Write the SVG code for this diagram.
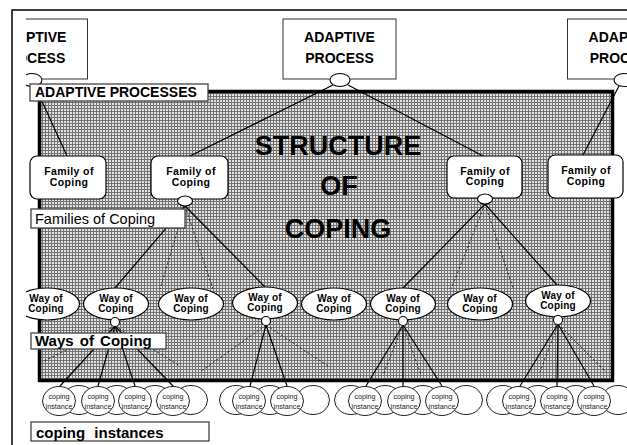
<svg xmlns="http://www.w3.org/2000/svg" width="627" height="445" viewBox="0 0 627 445">
<defs>
<pattern id="grid" width="3" height="3" patternUnits="userSpaceOnUse">
<rect width="3" height="3" fill="#e2e2e2"/>
<rect width="3" height="1" fill="#727272"/>
<rect width="1" height="3" fill="#727272"/>
</pattern>
<clipPath id="clip"><rect x="26" y="0" width="601" height="445"/></clipPath>
<style>
.frame{fill:none;stroke:#000;stroke-width:1.5}
.topbox{fill:#fff;stroke:#333;stroke-width:1}
.knob{fill:#fff;stroke:#000;stroke-width:1.1}
.fam{fill:#fff;stroke:#000;stroke-width:1.2}
.way{fill:#fff;stroke:#000;stroke-width:1.2}
.inst{fill:#fff;stroke:#222;stroke-width:1}
.lbl{fill:#fff;stroke:#444;stroke-width:1.3}
.solid{stroke:#000;stroke-width:1.2;fill:none}
.dash{stroke:#222;stroke-width:0.9;stroke-dasharray:2.5 2;fill:none}
text{font-family:"Liberation Sans",Arial,sans-serif;fill:#000}
.tb{font-size:14px;font-weight:bold;text-anchor:middle}
.ft{font-size:10.5px;font-weight:bold;text-anchor:middle;letter-spacing:0.4px}
.wt{font-size:10px;font-weight:bold;text-anchor:middle;letter-spacing:0.2px}
.it{font-size:7.2px;text-anchor:middle;fill:#222}
.big{font-size:27px;font-weight:bold;text-anchor:middle}
.lt{font-size:14px;font-weight:bold}
.ln{font-size:14.5px}
.lw{font-size:15px;font-weight:bold;word-spacing:2px}
.lc{font-size:15px;font-weight:bold;word-spacing:5px}
</style>
</defs>
<rect width="627" height="445" fill="#fff"/>
<path class="frame" d="M12,445 V10 H627"/>
<g clip-path="url(#clip)">
<rect id="structure" x="39.5" y="91.5" width="573" height="289" fill="url(#grid)" stroke="#000" stroke-width="3.5"/>
<g id="title">
<text class="big" x="338" y="155">STRUCTURE</text>
<text class="big" x="339" y="195">OF</text>
<text class="big" x="338" y="238">COPING</text>
</g>
<g id="process-left">
<rect class="topbox" x="-25.5" y="19" width="113" height="60"/>
<text class="tb" x="31" y="42">ADAPTIVE</text>
<text class="tb" x="31" y="63">PROCESS</text>
<ellipse class="knob" cx="32" cy="80" rx="10" ry="6.5"/>
</g>
<g id="process-mid">
<rect class="topbox" x="283" y="19" width="113" height="60"/>
<text class="tb" x="339.5" y="42">ADAPTIVE</text>
<text class="tb" x="339.5" y="63">PROCESS</text>
<ellipse class="knob" cx="340" cy="80" rx="10" ry="6.5"/>
</g>
<g id="process-right">
<rect class="topbox" x="567.5" y="19" width="113" height="60"/>
<text class="tb" x="624" y="42">ADAPTIVE</text>
<text class="tb" x="624" y="63">PROCESS</text>
<ellipse class="knob" cx="624" cy="80" rx="10" ry="6.5"/>
</g>
<g id="connectors">
<line class="solid" x1="35" y1="86" x2="67" y2="156"/>
<line class="solid" x1="333" y1="85" x2="190" y2="156"/>
<line class="solid" x1="348" y1="85" x2="483" y2="156"/>
<line class="solid" x1="619" y1="86" x2="583" y2="155"/>
<line class="solid" x1="185" y1="206" x2="115" y2="288"/>
<line class="solid" x1="185" y1="206" x2="265" y2="287"/>
<line class="dash" x1="185" y1="206" x2="160" y2="289"/>
<line class="dash" x1="185" y1="206" x2="213" y2="289"/>
<line class="solid" x1="485" y1="204" x2="403" y2="288"/>
<line class="solid" x1="485" y1="204" x2="557" y2="285"/>
<line class="dash" x1="485" y1="204" x2="451" y2="289"/>
<line class="dash" x1="485" y1="204" x2="513" y2="288"/>
<line class="solid" x1="115" y1="326" x2="60" y2="386"/>
<line class="solid" x1="115" y1="326" x2="98" y2="386"/>
<line class="solid" x1="115" y1="326" x2="135" y2="386"/>
<line class="solid" x1="115" y1="326" x2="173" y2="386"/>
<line class="dash" x1="115" y1="326" x2="42" y2="362"/>
<line class="dash" x1="115" y1="326" x2="180" y2="366"/>
<line class="solid" x1="266" y1="325" x2="250" y2="386"/>
<line class="solid" x1="266" y1="325" x2="287" y2="386"/>
<line class="dash" x1="266" y1="325" x2="200" y2="372"/>
<line class="dash" x1="266" y1="325" x2="328" y2="366"/>
<line class="solid" x1="403" y1="325" x2="366" y2="386"/>
<line class="solid" x1="403" y1="325" x2="403" y2="386"/>
<line class="solid" x1="403" y1="325" x2="442" y2="386"/>
<line class="dash" x1="403" y1="325" x2="383" y2="375"/>
<line class="dash" x1="403" y1="325" x2="421" y2="375"/>
<line class="solid" x1="558" y1="324" x2="520" y2="386"/>
<line class="solid" x1="558" y1="324" x2="557" y2="386"/>
<line class="solid" x1="558" y1="324" x2="594" y2="386"/>
<line class="dash" x1="558" y1="324" x2="540" y2="372"/>
<line class="dash" x1="558" y1="324" x2="606" y2="372"/>
</g>
<g id="family-1"><rect class="fam" x="30" y="156" width="76" height="43" rx="7"/><text class="ft" x="69" y="175">Family of</text><text class="ft" x="69" y="185.5">Coping</text></g>
<g id="family-2"><rect class="fam" x="151" y="156" width="77" height="43" rx="7"/><text class="ft" x="191" y="175">Family of</text><text class="ft" x="191" y="185.5">Coping</text><ellipse class="knob" cx="185" cy="201" rx="7.5" ry="5"/></g>
<g id="family-3"><rect class="fam" x="447" y="156" width="75" height="42" rx="7"/><text class="ft" x="485" y="174.5">Family of</text><text class="ft" x="485" y="185">Coping</text><ellipse class="knob" cx="485" cy="199" rx="7.5" ry="5"/></g>
<g id="family-4"><rect class="fam" x="548" y="155" width="75" height="43" rx="7"/><text class="ft" x="586" y="174">Family of</text><text class="ft" x="586" y="184.5">Coping</text></g>
<g id="way-1"><ellipse class="way" cx="47" cy="304" rx="32.5" ry="16"/><text class="wt" x="46" y="301.5">Way of</text><text class="wt" x="46" y="312">Coping</text></g>
<g id="way-2"><ellipse class="way" cx="116" cy="304" rx="32.5" ry="16"/><text class="wt" x="116" y="301.5">Way of</text><text class="wt" x="116" y="312">Coping</text><circle class="knob" cx="115" cy="322" r="4.5"/></g>
<g id="way-3"><ellipse class="way" cx="191" cy="304" rx="32.5" ry="16"/><text class="wt" x="191" y="301.5">Way of</text><text class="wt" x="191" y="312">Coping</text></g>
<g id="way-4"><ellipse class="way" cx="265" cy="303" rx="32.5" ry="16"/><text class="wt" x="265" y="300.5">Way of</text><text class="wt" x="265" y="311">Coping</text><circle class="knob" cx="266" cy="321" r="4.5"/></g>
<g id="way-5"><ellipse class="way" cx="334" cy="304" rx="32.5" ry="16"/><text class="wt" x="334" y="301.5">Way of</text><text class="wt" x="334" y="312">Coping</text></g>
<g id="way-6"><ellipse class="way" cx="403" cy="304" rx="32.5" ry="16"/><text class="wt" x="403" y="301.5">Way of</text><text class="wt" x="403" y="312">Coping</text><circle class="knob" cx="403" cy="321" r="4.5"/></g>
<g id="way-7"><ellipse class="way" cx="480" cy="304" rx="32.5" ry="16"/><text class="wt" x="480" y="301.5">Way of</text><text class="wt" x="480" y="312">Coping</text></g>
<g id="way-8"><ellipse class="way" cx="558" cy="301" rx="32.5" ry="16"/><text class="wt" x="558" y="298.5">Way of</text><text class="wt" x="558" y="309">Coping</text><circle class="knob" cx="558" cy="320" r="4.5"/></g>
<g id="instances-blank">
<ellipse class="inst" cx="79" cy="400" rx="16.5" ry="14.5"/>
<ellipse class="inst" cx="117" cy="400" rx="16.5" ry="14.5"/>
<ellipse class="inst" cx="155" cy="400" rx="16.5" ry="14.5"/>
<ellipse class="inst" cx="191" cy="400" rx="16.5" ry="14.5"/>
<ellipse class="inst" cx="236" cy="400" rx="16.5" ry="14.5"/>
<ellipse class="inst" cx="270" cy="400" rx="16.5" ry="14.5"/>
<ellipse class="inst" cx="313" cy="400" rx="16.5" ry="14.5"/>
<ellipse class="inst" cx="351" cy="400" rx="16.5" ry="14.5"/>
<ellipse class="inst" cx="385" cy="400" rx="16.5" ry="14.5"/>
<ellipse class="inst" cx="423" cy="400" rx="16.5" ry="14.5"/>
<ellipse class="inst" cx="466" cy="400" rx="16.5" ry="14.5"/>
<ellipse class="inst" cx="503" cy="400" rx="16.5" ry="14.5"/>
<ellipse class="inst" cx="538" cy="400" rx="16.5" ry="14.5"/>
<ellipse class="inst" cx="576" cy="400" rx="16.5" ry="14.5"/>
<ellipse class="inst" cx="618" cy="400" rx="16.5" ry="14.5"/>
</g>
<g id="instance-1"><ellipse class="inst" cx="59" cy="401" rx="16.5" ry="14.5"/><text class="it" x="59" y="399">coping</text><text class="it" x="59" y="409">instance</text></g>
<g id="instance-2"><ellipse class="inst" cx="98" cy="401" rx="16.5" ry="14.5"/><text class="it" x="98" y="399">coping</text><text class="it" x="98" y="409">instance</text></g>
<g id="instance-3"><ellipse class="inst" cx="135" cy="401" rx="16.5" ry="14.5"/><text class="it" x="135" y="399">coping</text><text class="it" x="135" y="409">instance</text></g>
<g id="instance-4"><ellipse class="inst" cx="173" cy="401" rx="16.5" ry="14.5"/><text class="it" x="173" y="399">coping</text><text class="it" x="173" y="409">instance</text></g>
<g id="instance-5"><ellipse class="inst" cx="249" cy="401" rx="16.5" ry="14.5"/><text class="it" x="249" y="399">coping</text><text class="it" x="249" y="409">instance</text></g>
<g id="instance-6"><ellipse class="inst" cx="287" cy="401" rx="16.5" ry="14.5"/><text class="it" x="287" y="399">coping</text><text class="it" x="287" y="409">instance</text></g>
<g id="instance-7"><ellipse class="inst" cx="365" cy="401" rx="16.5" ry="14.5"/><text class="it" x="365" y="399">coping</text><text class="it" x="365" y="409">instance</text></g>
<g id="instance-8"><ellipse class="inst" cx="404" cy="401" rx="16.5" ry="14.5"/><text class="it" x="404" y="399">coping</text><text class="it" x="404" y="409">instance</text></g>
<g id="instance-9"><ellipse class="inst" cx="442" cy="401" rx="16.5" ry="14.5"/><text class="it" x="442" y="399">coping</text><text class="it" x="442" y="409">instance</text></g>
<g id="instance-10"><ellipse class="inst" cx="519" cy="401" rx="16.5" ry="14.5"/><text class="it" x="519" y="399">coping</text><text class="it" x="519" y="409">instance</text></g>
<g id="instance-11"><ellipse class="inst" cx="557" cy="401" rx="16.5" ry="14.5"/><text class="it" x="557" y="399">coping</text><text class="it" x="557" y="409">instance</text></g>
<g id="instance-12"><ellipse class="inst" cx="594" cy="401" rx="16.5" ry="14.5"/><text class="it" x="594" y="399">coping</text><text class="it" x="594" y="409">instance</text></g>
<g id="label-processes"><rect class="lbl" x="30" y="84" width="178" height="17"/><text class="lt" x="35" y="97">ADAPTIVE PROCESSES</text></g>
<g id="label-families"><rect class="lbl" x="31" y="209" width="154" height="19"/><text class="ln" x="35" y="224">Families of Coping</text></g>
<g id="label-ways"><rect class="lbl" x="31" y="333" width="135" height="16"/><text class="lw" x="35" y="346">Ways of Coping</text></g>
<g id="label-instances"><rect class="lbl" x="31" y="422" width="178" height="19"/><text class="lc" x="36" y="437.5">coping instances</text></g>
</g>
</svg>
